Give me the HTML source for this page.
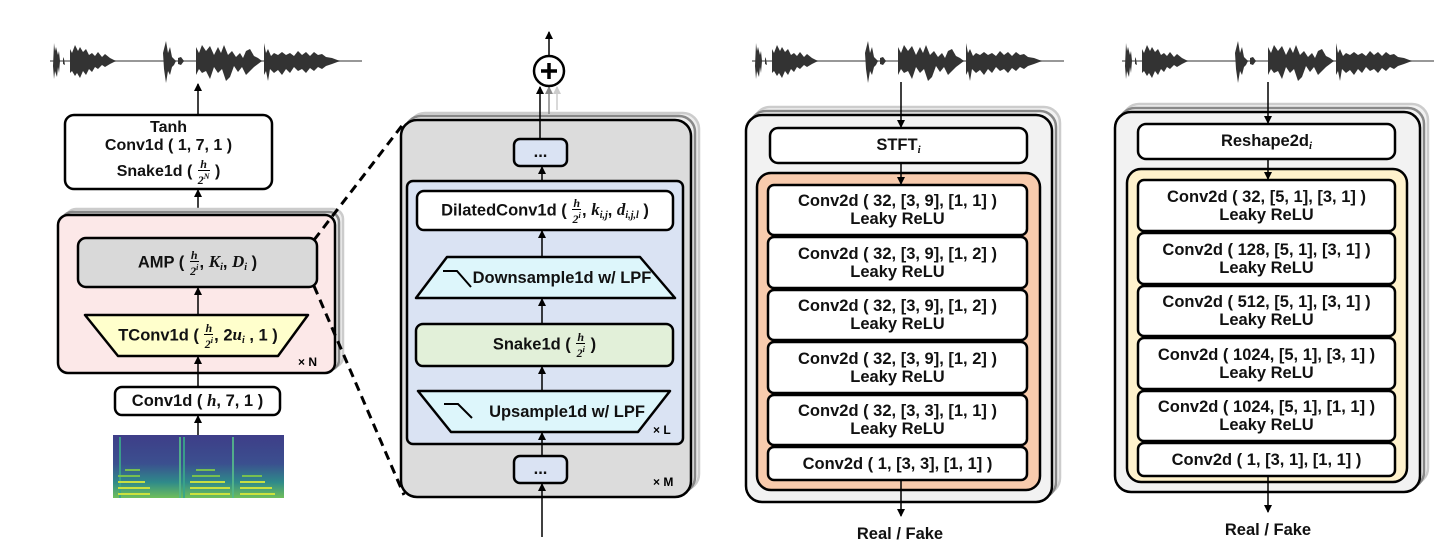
<!DOCTYPE html>
<html><head><meta charset="utf-8">
<style>
body{margin:0;background:#fff;}
#c{position:relative;width:1442px;height:558px;overflow:hidden;font-family:"Liberation Sans",sans-serif;}
svg{position:absolute;left:0;top:0;}
.l{position:absolute;display:flex;flex-direction:column;align-items:center;justify-content:center;font-weight:bold;font-size:16.5px;color:#111;line-height:18px;text-align:center;white-space:nowrap;}
.fr{display:inline-flex;flex-direction:column;vertical-align:middle;font:italic bold 12px "Liberation Serif",serif;line-height:12px;text-align:center;margin:0 1px;}
.fr span:first-child{border-bottom:1px solid #000;padding:0 1px;}
.m{font:italic bold 17px "Liberation Serif",serif;}
.s{font:italic bold 10px "Liberation Serif",serif;vertical-align:-3px;}
.x{position:absolute;font-size:12px;font-weight:bold;}
</style></head><body><div id="c">
<svg width="1442" height="558" viewBox="0 0 1442 558">
<defs>
<marker id="a" markerWidth="8" markerHeight="8" refX="7" refY="4" orient="auto" markerUnits="userSpaceOnUse"><path d="M0,0 L8,4 L0,8 z" fill="#000"/></marker>
<marker id="ag" markerWidth="8" markerHeight="8" refX="7" refY="4" orient="auto" markerUnits="userSpaceOnUse"><path d="M0,0 L8,4 L0,8 z" fill="#888"/></marker>
<marker id="al" markerWidth="8" markerHeight="8" refX="7" refY="4" orient="auto" markerUnits="userSpaceOnUse"><path d="M0,0 L8,4 L0,8 z" fill="#ccc"/></marker>
<g id="wave">
<line x1="0" y1="0" x2="312" y2="0" stroke="#777" stroke-width="1.5"/>
<path fill="#333" d="M4,-18 L5,-10 L6,-14 L8,-6 L9,-10 L10,0 L9,12 L8,6 L7,16 L5,10 L4,18 L3,5 Z"/>
<path fill="#333" d="M13,-4 L14,-2 L15,4 L13,3Z"/>
<path fill="#333" d="M20,-12 L22,-8 L25,-16 L28,-10 L30,-14 L33,-9 L36,-12 L39,-6 L42,-8 L45,-5 L48,-9 L52,-4 L55,-7 L60,-3 L66,0 L60,3 L55,6 L52,4 L48,8 L45,6 L42,11 L39,8 L36,14 L33,10 L30,17 L27,12 L25,15 L22,10 L20,12 Z"/>
<path fill="#333" d="M116,-20 L118,-8 L120,-14 L122,-4 L124,-2 L126,0 L124,4 L122,6 L120,14 L118,10 L116,22 L114,8 L113,-8Z"/>
<path fill="#333" d="M128,-3 L131,-4 L134,0 L131,4 L128,3Z"/>
<path fill="#333" d="M146,-14 L149,-8 L152,-16 L156,-10 L160,-15 L164,-6 L168,-14 L171,-8 L174,-16 L178,-6 L182,-10 L186,-4 L190,-8 L193,-3 L196,-10 L200,-12 L204,-5 L208,-3 L212,0 L208,3 L204,6 L200,10 L196,14 L192,6 L188,11 L184,5 L180,16 L176,20 L172,8 L168,12 L164,6 L160,18 L156,10 L152,12 L149,8 L146,14 Z"/>
<path fill="#333" d="M214,-18 L216,-8 L218,-12 L221,-5 L224,-8 L228,-6 L232,-9 L236,-6 L240,-8 L244,-5 L248,-10 L252,-6 L256,-9 L260,-5 L264,-9 L268,-6 L272,-7 L276,-4 L282,-3 L290,0 L282,3 L276,5 L272,8 L268,6 L264,10 L260,7 L256,12 L252,8 L248,10 L244,6 L240,12 L236,8 L232,14 L228,9 L224,12 L220,8 L218,20 L216,10 L214,14Z"/>
</g>
<linearGradient id="sp" x1="0" y1="0" x2="0" y2="1"><stop offset="0" stop-color="#3e3e88"/><stop offset="0.45" stop-color="#3b4f8f"/><stop offset="0.75" stop-color="#2f8a8a"/><stop offset="1" stop-color="#6fbf5a"/></linearGradient>
</defs>

<use href="#wave" x="50" y="61"/>
<use href="#wave" x="752" y="61"/>
<use href="#wave" x="1122" y="61"/>

<line x1="198" y1="115" x2="198" y2="84" stroke="#000" stroke-width="1.5" marker-end="url(#a)"/>
<rect x="65" y="115" width="207" height="74" rx="9" fill="#fff" stroke="#000" stroke-width="2.5"/>
<line x1="198" y1="238" x2="198" y2="190" stroke="#000" stroke-width="1.5" marker-end="url(#a)"/>
<rect x="66" y="209" width="277" height="158" rx="10" fill="#eee" stroke="#ccc" stroke-width="2.5"/>
<rect x="62" y="212" width="277" height="158" rx="10" fill="#eee" stroke="#888" stroke-width="2.5"/>
<rect x="58" y="215" width="277" height="158" rx="10" fill="#fce8e8" stroke="#000" stroke-width="2.5"/>
<rect x="78" y="238" width="239" height="49" rx="8" fill="#d9d9d9" stroke="#000" stroke-width="2.5"/>
<line x1="198" y1="315" x2="198" y2="288" stroke="#000" stroke-width="1.5" marker-end="url(#a)"/>
<polygon points="85,315 308,315 278,356 118,356" fill="#ffffcc" stroke="#000" stroke-width="2.5" stroke-linejoin="round"/>
<line x1="198" y1="387" x2="198" y2="357" stroke="#000" stroke-width="1.5" marker-end="url(#a)"/>
<rect x="115" y="387" width="165" height="28" rx="7" fill="#fff" stroke="#000" stroke-width="2.5"/>
<line x1="198" y1="435" x2="198" y2="416" stroke="#000" stroke-width="1.5" marker-end="url(#a)"/>
<rect x="113" y="435" width="171" height="63" fill="url(#sp)"/>
<g stroke-width="2" opacity="0.9">
<line x1="120" y1="437" x2="120" y2="498" stroke="#3aa58a"/><line x1="180" y1="437" x2="180" y2="498" stroke="#55b88a"/><line x1="184" y1="437" x2="184" y2="498" stroke="#3aa58a"/><line x1="233" y1="437" x2="233" y2="498" stroke="#55b88a"/>
<path d="M118,494 H150 M118,488 H150 M118,482 H145 M190,494 H230 M190,488 H230 M190,482 H225 M240,494 H275 M240,488 H272 M240,482 H265" stroke="#d8e83a"/>
<path d="M118,476 H140 M192,476 H220 M242,476 H262 M125,470 H140 M196,470 H215" stroke="#7fc84a"/>
</g>
<line x1="314" y1="240" x2="404" y2="123" stroke="#000" stroke-width="3" stroke-dasharray="9,6"/>
<line x1="314" y1="286" x2="404" y2="495" stroke="#000" stroke-width="3" stroke-dasharray="9,6"/>

<rect x="409" y="113" width="290" height="377" rx="16" fill="#eee" stroke="#ccc" stroke-width="2.5"/>
<rect x="405" y="116" width="290" height="377" rx="16" fill="#eee" stroke="#888" stroke-width="2.5"/>
<rect x="401" y="120" width="290" height="377" rx="16" fill="#dcdcdc" stroke="#000" stroke-width="2.5"/>
<line x1="540" y1="139" x2="540" y2="87" stroke="#000" stroke-width="1.5" marker-end="url(#a)"/>
<line x1="549" y1="114" x2="549" y2="87" stroke="#888" stroke-width="1.5" marker-end="url(#ag)"/>
<line x1="557" y1="110" x2="557" y2="87" stroke="#ccc" stroke-width="1.5" marker-end="url(#al)"/>
<circle cx="549" cy="71" r="15" fill="#fff" stroke="#000" stroke-width="2.5"/>
<path d="M549,63 V79 M541,71 H557" stroke="#000" stroke-width="3.5"/>
<line x1="549" y1="56" x2="549" y2="32" stroke="#000" stroke-width="1.5" marker-end="url(#a)"/>
<rect x="514" y="139" width="53" height="27" rx="6" fill="#dae3f3" stroke="#000" stroke-width="2.5"/>
<line x1="542" y1="181" x2="542" y2="167" stroke="#000" stroke-width="1.5" marker-end="url(#a)"/>
<rect x="407" y="181" width="276" height="263" rx="6" fill="#dae3f3" stroke="#000" stroke-width="2.5"/>
<rect x="417" y="191" width="256" height="39" rx="7" fill="#fff" stroke="#000" stroke-width="2.5"/>
<line x1="542" y1="257" x2="542" y2="231" stroke="#000" stroke-width="1.5" marker-end="url(#a)"/>
<polygon points="447,257 640,257 675,298 416,298" fill="#ddf6fb" stroke="#000" stroke-width="2.5" stroke-linejoin="round"/>
<path d="M443,271 H457 L471,287" fill="none" stroke="#000" stroke-width="2"/>
<line x1="542" y1="324" x2="542" y2="299" stroke="#000" stroke-width="1.5" marker-end="url(#a)"/>
<rect x="416" y="324" width="257" height="42" rx="7" fill="#e2f0d9" stroke="#000" stroke-width="2.5"/>
<line x1="542" y1="391" x2="542" y2="367" stroke="#000" stroke-width="1.5" marker-end="url(#a)"/>
<polygon points="418,391 670,391 638,432 451,432" fill="#ddf6fb" stroke="#000" stroke-width="2.5" stroke-linejoin="round"/>
<path d="M444,404 H458 L472,418" fill="none" stroke="#000" stroke-width="2"/>
<line x1="542" y1="456" x2="542" y2="433" stroke="#000" stroke-width="1.5" marker-end="url(#a)"/>
<rect x="514" y="456" width="53" height="27" rx="6" fill="#dae3f3" stroke="#000" stroke-width="2.5"/>
<line x1="542" y1="537" x2="542" y2="484" stroke="#000" stroke-width="1.5" marker-end="url(#a)"/>

<rect x="754" y="107" width="306" height="387" rx="16" fill="#f2f2f2" stroke="#ccc" stroke-width="2.5"/>
<rect x="750" y="111" width="306" height="387" rx="16" fill="#f2f2f2" stroke="#888" stroke-width="2.5"/>
<rect x="746" y="115" width="306" height="387" rx="16" fill="#f2f2f2" stroke="#000" stroke-width="2.5"/>
<line x1="901" y1="82" x2="901" y2="127" stroke="#000" stroke-width="1.5" marker-end="url(#a)"/>
<rect x="770" y="128" width="257" height="35" rx="8" fill="#fff" stroke="#000" stroke-width="2.5"/>
<rect x="757" y="173" width="283" height="317" rx="14" fill="#f8cbad" stroke="#000" stroke-width="2.5"/>
<line x1="901" y1="163" x2="901" y2="184" stroke="#000" stroke-width="1.5" marker-end="url(#a)"/>
<g fill="#fff" stroke="#000" stroke-width="2.5">
<rect x="768" y="185" width="259" height="50" rx="6"/><rect x="768" y="237" width="259" height="51" rx="6"/><rect x="768" y="290" width="259" height="50" rx="6"/><rect x="768" y="342" width="259" height="51" rx="6"/><rect x="768" y="395" width="259" height="50" rx="6"/><rect x="768" y="447" width="259" height="33" rx="6"/>
</g>
<line x1="901" y1="480" x2="901" y2="516" stroke="#000" stroke-width="1.5" marker-end="url(#a)"/>

<rect x="1123" y="104" width="305" height="380" rx="16" fill="#f2f2f2" stroke="#ccc" stroke-width="2.5"/>
<rect x="1119" y="108" width="305" height="380" rx="16" fill="#f2f2f2" stroke="#888" stroke-width="2.5"/>
<rect x="1115" y="112" width="305" height="380" rx="16" fill="#f2f2f2" stroke="#000" stroke-width="2.5"/>
<line x1="1268" y1="82" x2="1268" y2="123" stroke="#000" stroke-width="1.5" marker-end="url(#a)"/>
<rect x="1138" y="124" width="257" height="35" rx="8" fill="#fff" stroke="#000" stroke-width="2.5"/>
<rect x="1127" y="169" width="280" height="313" rx="14" fill="#fff2cc" stroke="#000" stroke-width="2.5"/>
<line x1="1268" y1="159" x2="1268" y2="179" stroke="#000" stroke-width="1.5" marker-end="url(#a)"/>
<g fill="#fff" stroke="#000" stroke-width="2.5">
<rect x="1138" y="180" width="257" height="51" rx="6"/><rect x="1138" y="233" width="257" height="51" rx="6"/><rect x="1138" y="286" width="257" height="50" rx="6"/><rect x="1138" y="338" width="257" height="51" rx="6"/><rect x="1138" y="391" width="257" height="50" rx="6"/><rect x="1138" y="443" width="257" height="33" rx="6"/>
</g>
<line x1="1268" y1="476" x2="1268" y2="512" stroke="#000" stroke-width="1.5" marker-end="url(#a)"/>
</svg>

<div class="l" style="left:65px;top:117px;width:207px;height:70px;font-size:16px;">
<div>Tanh</div><div>Conv1d ( 1, 7, 1 )</div><div style="margin-top:3px">Snake1d ( <span class="fr"><span>h</span><span>2<sup style="font-size:8px">N</sup></span></span> )</div></div>
<div class="l" style="left:78px;top:238px;width:239px;height:49px;"><div>AMP ( <span class="fr"><span>h</span><span>2<sup style="font-size:8px">i</sup></span></span>, <span class="m">K<span class="s">i</span></span>, <span class="m">D<span class="s">i</span></span> )</div></div>
<div class="l" style="left:100px;top:315px;width:196px;height:41px;"><div>TConv1d ( <span class="fr"><span>h</span><span>2<sup style="font-size:8px">i</sup></span></span>, 2<span class="m">u<span class="s">i</span></span> , 1 )</div></div>
<div class="x" style="left:298px;top:355px;">× N</div>
<div class="l" style="left:115px;top:387px;width:165px;height:28px;"><div>Conv1d ( <span class="m">h</span>, 7, 1 )</div></div>

<div class="l" style="left:514px;top:139px;width:53px;height:25px;">...</div>
<div class="l" style="left:417px;top:191px;width:256px;height:39px;"><div>DilatedConv1d ( <span class="fr"><span>h</span><span>2<sup style="font-size:8px">i</sup></span></span>, <span class="m">k<span class="s">i,j</span></span>, <span class="m">d<span class="s">i,j,l</span></span> )</div></div>
<div class="l" style="left:462px;top:257px;width:200px;height:41px;">Downsample1d w/ LPF</div>
<div class="l" style="left:416px;top:324px;width:257px;height:42px;"><div>Snake1d ( <span class="fr"><span>h</span><span>2<sup style="font-size:8px">i</sup></span></span> )</div></div>
<div class="l" style="left:472px;top:391px;width:190px;height:41px;">Upsample1d w/ LPF</div>
<div class="x" style="left:653px;top:423px;">× L</div>
<div class="l" style="left:514px;top:456px;width:53px;height:25px;">...</div>
<div class="x" style="left:653px;top:475px;">× M</div>

<div class="l" style="left:770px;top:128px;width:257px;height:35px;"><div>STFT<span class="s" style="font-size:11px">i</span></div></div>
<div class="l" style="left:768px;top:185px;width:259px;height:50px;"><div>Conv2d ( 32, [3, 9], [1, 1] )</div><div>Leaky ReLU</div></div>
<div class="l" style="left:768px;top:237px;width:259px;height:51px;"><div>Conv2d ( 32, [3, 9], [1, 2] )</div><div>Leaky ReLU</div></div>
<div class="l" style="left:768px;top:290px;width:259px;height:50px;"><div>Conv2d ( 32, [3, 9], [1, 2] )</div><div>Leaky ReLU</div></div>
<div class="l" style="left:768px;top:342px;width:259px;height:51px;"><div>Conv2d ( 32, [3, 9], [1, 2] )</div><div>Leaky ReLU</div></div>
<div class="l" style="left:768px;top:395px;width:259px;height:50px;"><div>Conv2d ( 32, [3, 3], [1, 1] )</div><div>Leaky ReLU</div></div>
<div class="l" style="left:768px;top:447px;width:259px;height:33px;">Conv2d ( 1, [3, 3], [1, 1] )</div>
<div class="l" style="left:800px;top:524px;width:200px;height:20px;">Real / Fake</div>

<div class="l" style="left:1138px;top:124px;width:257px;height:35px;"><div>Reshape2d<span class="s" style="font-size:11px">i</span></div></div>
<div class="l" style="left:1138px;top:180px;width:257px;height:51px;"><div>Conv2d ( 32, [5, 1], [3, 1] )</div><div>Leaky ReLU</div></div>
<div class="l" style="left:1138px;top:233px;width:257px;height:51px;"><div>Conv2d ( 128, [5, 1], [3, 1] )</div><div>Leaky ReLU</div></div>
<div class="l" style="left:1138px;top:286px;width:257px;height:50px;"><div>Conv2d ( 512, [5, 1], [3, 1] )</div><div>Leaky ReLU</div></div>
<div class="l" style="left:1138px;top:338px;width:257px;height:51px;"><div>Conv2d ( 1024, [5, 1], [3, 1] )</div><div>Leaky ReLU</div></div>
<div class="l" style="left:1138px;top:391px;width:257px;height:50px;"><div>Conv2d ( 1024, [5, 1], [1, 1] )</div><div>Leaky ReLU</div></div>
<div class="l" style="left:1138px;top:443px;width:257px;height:33px;">Conv2d ( 1, [3, 1], [1, 1] )</div>
<div class="l" style="left:1168px;top:520px;width:200px;height:20px;">Real / Fake</div>
</div></body></html>
